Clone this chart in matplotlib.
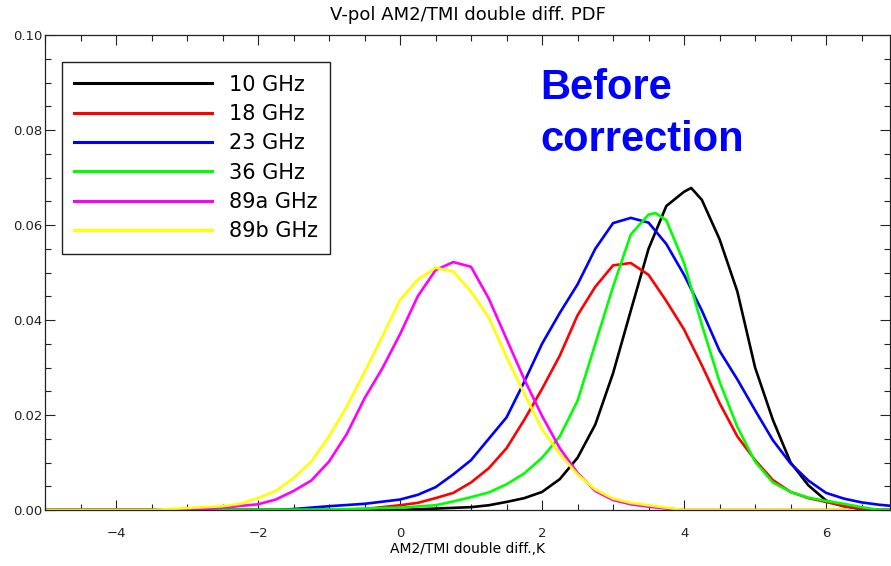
import matplotlib
matplotlib.use('Agg')
import matplotlib.pyplot as plt
from matplotlib.ticker import MultipleLocator

# PDF curves (x in K, y = probability density)
x_10 = [-5.0, 0.0, 0.5, 1.0, 1.25, 1.5, 1.75, 2.0, 2.25, 2.5, 2.75, 3.0, 3.25, 3.5, 3.75, 4.0,
        4.1, 4.25, 4.5, 4.75, 5.0, 5.25, 5.5, 5.75, 6.0, 6.25, 6.5, 6.75, 6.9]
y_10 = [0.0, 0.0, 0.0003, 0.0006, 0.001, 0.0017, 0.0025, 0.0038, 0.0065, 0.011, 0.018, 0.0288,
        0.042, 0.055, 0.064, 0.067, 0.0678, 0.0653, 0.057, 0.046, 0.030, 0.019, 0.010, 0.0052,
        0.002, 0.0008, 0.0002, 0.0, 0.0]

x_18 = [-5.0, -1.0, -0.5, 0.0, 0.25, 0.5, 0.75, 1.0, 1.25, 1.5, 1.75, 2.0, 2.25, 2.5, 2.75, 3.0,
        3.25, 3.5, 3.75, 4.0, 4.25, 4.5, 4.75, 5.0, 5.25, 5.5, 5.75, 6.0, 6.25, 6.5, 6.75, 6.9]
y_18 = [0.0, 0.0, 0.0002, 0.001, 0.0015, 0.0025, 0.0036, 0.0058, 0.0088, 0.013, 0.019, 0.0255,
        0.0325, 0.041, 0.047, 0.0515, 0.052, 0.0495, 0.044, 0.038, 0.0305, 0.0225, 0.0155, 0.0105,
        0.0063, 0.0038, 0.0025, 0.0017, 0.0008, 0.0002, 0.0, 0.0]

x_23 = [-5.0, -1.75, -1.5, -1.0, -0.5, 0.0, 0.25, 0.5, 0.75, 1.0, 1.25, 1.5, 1.75, 2.0, 2.25, 2.5,
        2.75, 3.0, 3.25, 3.5, 3.75, 4.0, 4.25, 4.5, 4.75, 5.0, 5.25, 5.5, 5.75, 6.0, 6.25, 6.5,
        6.75, 6.9]
y_23 = [0.0, 0.0, 0.0002, 0.0008, 0.0013, 0.0022, 0.0032, 0.0048, 0.0075, 0.0105, 0.015, 0.0195,
        0.027, 0.035, 0.0415, 0.0475, 0.055, 0.0604, 0.0615, 0.0605, 0.056, 0.0495, 0.042, 0.0335,
        0.0275, 0.021, 0.0147, 0.0098, 0.0062, 0.0036, 0.0024, 0.0016, 0.0011, 0.0009]

x_36 = [-5.0, -2.75, -1.0, 0.0, 0.5, 0.75, 1.0, 1.25, 1.5, 1.75, 2.0, 2.25, 2.5, 2.75, 3.0, 3.25,
        3.5, 3.6, 3.75, 4.0, 4.25, 4.5, 4.75, 5.0, 5.25, 5.5, 5.75, 6.0, 6.25, 6.5, 6.75, 6.9]
y_36 = [0.0, 0.0, 0.0001, 0.0005, 0.001, 0.0018, 0.0027, 0.0037, 0.0054, 0.0077, 0.011, 0.0155,
        0.023, 0.035, 0.047, 0.058, 0.0622, 0.0625, 0.061, 0.052, 0.039, 0.027, 0.0175, 0.0102,
        0.0058, 0.0038, 0.0026, 0.0019, 0.0013, 0.0006, 0.0, 0.0]

x_89a = [-5.0, -3.25, -2.75, -2.5, -2.0, -1.75, -1.5, -1.25, -1.0, -0.75, -0.5, -0.25, 0.0, 0.25,
         0.5, 0.75, 1.0, 1.25, 1.5, 1.75, 2.0, 2.25, 2.5, 2.75, 3.0, 3.25, 3.5, 3.75, 4.0, 6.3]
y_89a = [0.0, 0.0, 0.0002, 0.0005, 0.0012, 0.0022, 0.004, 0.0062, 0.0102, 0.016, 0.0235, 0.0298,
         0.037, 0.045, 0.0505, 0.0522, 0.0512, 0.0445, 0.036, 0.0275, 0.0198, 0.013, 0.0078, 0.004,
         0.0021, 0.0012, 0.0007, 0.0003, 0.0, 0.0]

x_89b = [-5.0, -3.5, -3.25, -3.0, -2.75, -2.5, -2.25, -2.0, -1.75, -1.5, -1.25, -1.0, -0.75, -0.5,
         -0.25, 0.0, 0.25, 0.5, 0.75, 1.0, 1.25, 1.5, 1.75, 2.0, 2.25, 2.5, 2.75, 3.0, 3.25, 3.5,
         3.75, 4.0, 6.3]
y_89b = [0.0, 0.0, 0.0002, 0.0004, 0.0006, 0.0008, 0.0013, 0.0025, 0.004, 0.0067, 0.0102, 0.0155,
         0.0218, 0.029, 0.0365, 0.0442, 0.0485, 0.051, 0.0502, 0.046, 0.0405, 0.0322, 0.0245, 0.017,
         0.0118, 0.0075, 0.0043, 0.0024, 0.0015, 0.001, 0.0005, 0.0, 0.0]

labels = ['10 GHz', '18 GHz', '23 GHz', '36 GHz', '89a GHz', '89b GHz']
colors = ['#000000', '#ff0000', '#0000ff', '#00ff00', '#ff00ff', '#ffff00']

fig = plt.figure(figsize=(8.91, 5.66), dpi=100)
ax = fig.add_axes([45 / 891, 56 / 566, 845 / 891, 475 / 566])

series = [(x_10, y_10), (x_18, y_18), (x_23, y_23), (x_36, y_36), (x_89a, y_89a), (x_89b, y_89b)]
for (xs, ys), lab, c in zip(series, labels, colors):
    ax.plot(xs, ys, color=c, lw=1.9, label=lab)

ax.set_xlim(-5, 6.9)
ax.set_ylim(0, 0.10)

# IDL-like ticks: inward, on all four sides
ax.xaxis.set_major_locator(MultipleLocator(2))
ax.xaxis.set_minor_locator(MultipleLocator(0.5))
ax.yaxis.set_major_locator(MultipleLocator(0.02))
ax.yaxis.set_minor_locator(MultipleLocator(0.005))
ax.yaxis.set_major_formatter(plt.FuncFormatter(lambda v, p: '%.2f' % v))
ax.tick_params(which='both', direction='in', top=True, right=True, width=0.8, colors='#222222')
ax.tick_params(which='major', length=7.5)
ax.tick_params(which='minor', length=4)
ax.tick_params(axis='x', which='major', pad=12, labelsize=9.5)
ax.tick_params(axis='y', which='major', pad=2, labelsize=9.5)
for sp in ax.spines.values():
    sp.set_linewidth(0.9)
    sp.set_color('#222222')

ax.set_title('V-pol AM2/TMI double diff. PDF', fontsize=13, pad=11)
ax.set_xlabel('AM2/TMI double diff.,K', fontsize=10, labelpad=2)

leg = ax.legend(loc='upper left', bbox_to_anchor=(0.02, 0.943), borderaxespad=0,
                fontsize=15, handlelength=6.6, handletextpad=0.82, labelspacing=0.45,
                borderpad=0.6, fancybox=False, framealpha=1, edgecolor='#222222')
leg.get_frame().set_linewidth(1.0)
for line in leg.get_lines():
    line.set_linewidth(2.2)

ax.text(0.586, 0.93, 'Before\ncorrection', transform=ax.transAxes, ha='left', va='top',
        color='#0000ff', fontsize=30, fontweight='bold', family='Liberation Sans',
        linespacing=1.38)

fig.savefig('out.png', dpi=100)
